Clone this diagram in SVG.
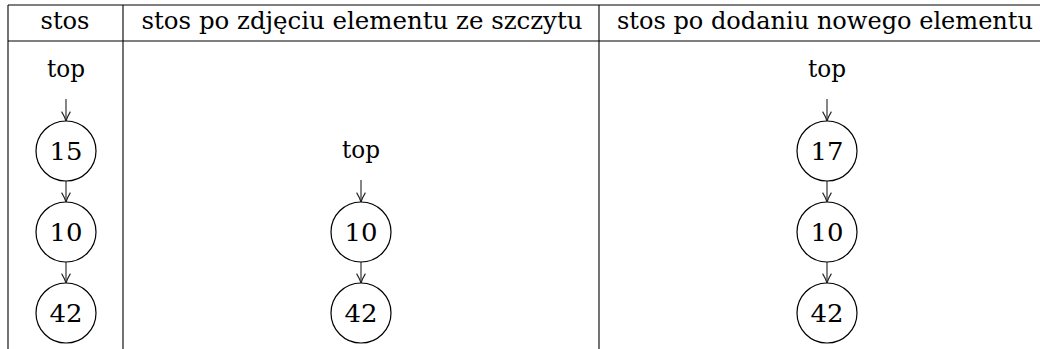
<svg xmlns="http://www.w3.org/2000/svg" width="1040" height="349" viewBox="0 0 1040 349">
  <style>
    .rule { stroke: #000; stroke-width: 1.1; fill: none; }
    .txt { font-family: 'DejaVu Serif', 'Liberation Serif', serif; font-size: 24px; fill: #000; text-anchor: middle; }
    .num { font-size: 25px; }
    .node circle { fill: #fff; stroke: #000; stroke-width: 1.2; }
    .edge { stroke: #222; stroke-width: 1.1; fill: none; marker-end: url(#tip); }
  </style>
  <defs>
    <marker id="tip" viewBox="0 0 10 10" refX="9.5" refY="5" markerWidth="11" markerHeight="11" markerUnits="userSpaceOnUse" orient="auto">
      <path d="M1,1 Q6,4 9.5,5 Q6,6 1,9" fill="none" stroke="#222" stroke-width="1"/>
    </marker>
  </defs>
  <rect width="1040" height="349" fill="#fff"/>

  <!-- table rules and column headings -->
  <g id="table">
    <line class="rule" x1="8" y1="5" x2="1040" y2="5"/>
    <line class="rule" x1="8" y1="41" x2="1040" y2="41"/>
    <line class="rule" x1="8" y1="5" x2="8" y2="349"/>
    <line class="rule" x1="123" y1="5" x2="123" y2="349"/>
    <line class="rule" x1="599" y1="5" x2="599" y2="349"/>
    <text class="txt" x="65" y="29" textLength="49" lengthAdjust="spacingAndGlyphs">stos</text>
    <text class="txt" x="362" y="29" textLength="441" lengthAdjust="spacingAndGlyphs">stos po zdjęciu elementu ze szczytu</text>
    <text class="txt" x="825" y="29" textLength="416" lengthAdjust="spacingAndGlyphs">stos po dodaniu nowego elementu</text>
  </g>

  <!-- connectors -->
  <g id="connectors">
    <line class="edge" x1="66" y1="99" x2="66" y2="121"/>
    <line class="edge" x1="66" y1="181" x2="66" y2="202"/>
    <line class="edge" x1="66" y1="262" x2="66" y2="283"/>
    <line class="edge" x1="361" y1="180" x2="361" y2="202"/>
    <line class="edge" x1="361" y1="262" x2="361" y2="283"/>
    <line class="edge" x1="827" y1="99" x2="827" y2="121"/>
    <line class="edge" x1="827" y1="181" x2="827" y2="202"/>
    <line class="edge" x1="827" y1="262" x2="827" y2="283"/>
  </g>

  <!-- column 1: stos -->
  <g id="top1" class="node"><text class="txt" x="66" y="77" textLength="38" lengthAdjust="spacingAndGlyphs">top</text></g>
  <g id="n1_15" class="node"><circle cx="66" cy="151" r="30"/><text class="txt num" x="66" y="160" textLength="33" lengthAdjust="spacingAndGlyphs">15</text></g>
  <g id="n1_10" class="node"><circle cx="66" cy="232" r="30"/><text class="txt num" x="66" y="241" textLength="33" lengthAdjust="spacingAndGlyphs">10</text></g>
  <g id="n1_42" class="node"><circle cx="66" cy="313" r="30"/><text class="txt num" x="66" y="322" textLength="33" lengthAdjust="spacingAndGlyphs">42</text></g>

  <!-- column 2: after pop -->
  <g id="top2" class="node"><text class="txt" x="361" y="158" textLength="38" lengthAdjust="spacingAndGlyphs">top</text></g>
  <g id="n2_10" class="node"><circle cx="361" cy="232" r="30"/><text class="txt num" x="361" y="241" textLength="33" lengthAdjust="spacingAndGlyphs">10</text></g>
  <g id="n2_42" class="node"><circle cx="361" cy="313" r="30"/><text class="txt num" x="361" y="322" textLength="33" lengthAdjust="spacingAndGlyphs">42</text></g>

  <!-- column 3: after push -->
  <g id="top3" class="node"><text class="txt" x="827" y="77" textLength="38" lengthAdjust="spacingAndGlyphs">top</text></g>
  <g id="n3_17" class="node"><circle cx="827" cy="151" r="30"/><text class="txt num" x="827" y="160" textLength="33" lengthAdjust="spacingAndGlyphs">17</text></g>
  <g id="n3_10" class="node"><circle cx="827" cy="232" r="30"/><text class="txt num" x="827" y="241" textLength="33" lengthAdjust="spacingAndGlyphs">10</text></g>
  <g id="n3_42" class="node"><circle cx="827" cy="313" r="30"/><text class="txt num" x="827" y="322" textLength="33" lengthAdjust="spacingAndGlyphs">42</text></g>
</svg>
